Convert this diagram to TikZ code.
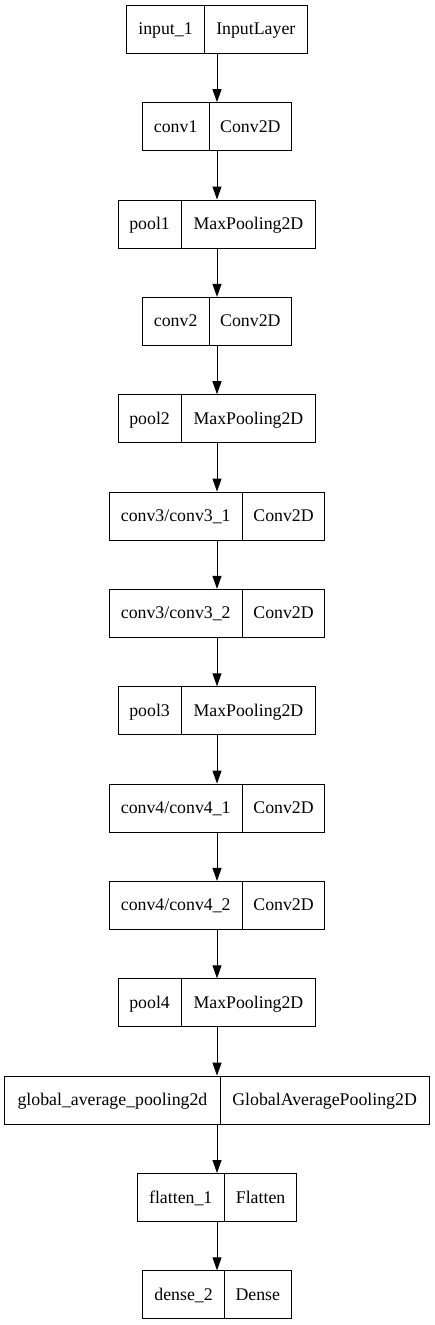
\documentclass[tikz,border=0pt]{standalone}
\usepackage{fontspec}
\setmainfont{Liberation Serif}
\usetikzlibrary{arrows.meta}
\newcommand\layerbox[6]{% name, index, width, divider x, text1, text2
  \pgfmathsetmacro\cy{-(29.3+97.35*#2)}%
  \pgfmathsetmacro\lx{217-(#3)/2}%
  \pgfmathsetmacro\rx{217+(#3)/2}%
  \node[layer, minimum width=#3pt] (#1) at (217,\cy) {};
  \draw[divider] (#4,\cy+24) -- (#4,\cy-24);
  \node[lbl] (#1-a) at ({(\lx+#4)/2},\cy-5.5) {#5};
  \node[lbl] (#1-b) at ({(#4+\rx)/2},\cy-5.5) {#6};
}
\begin{document}
\begin{tikzpicture}[x=1pt,y=1pt,
  layer/.style={draw=black, line width=1pt, minimum height=48pt, inner sep=0pt},
  divider/.style={draw=black, line width=1pt},
  lbl/.style={anchor=base, inner sep=0pt, font=\fontsize{17.8}{20}\selectfont},
  arr/.style={draw=black, line width=1pt, -{Triangle[length=13pt,width=9pt]}}]
\useasboundingbox (0,0) rectangle (435,-1325);
\fill[white] (0,0) rectangle (435,-1325);
\layerbox{n0}{0}{180.6}{204.3}{input\_1}{InputLayer}
\layerbox{n1}{1}{149.4}{209}{conv1}{Conv2D}
\layerbox{n2}{2}{197.7}{181}{pool1}{MaxPooling2D}
\layerbox{n3}{3}{149.4}{209}{conv2}{Conv2D}
\layerbox{n4}{4}{197.7}{181}{pool2}{MaxPooling2D}
\layerbox{n5}{5}{215.7}{242.3}{conv3/conv3\_1}{Conv2D}
\layerbox{n6}{6}{215.7}{242.3}{conv3/conv3\_2}{Conv2D}
\layerbox{n7}{7}{197.7}{181}{pool3}{MaxPooling2D}
\layerbox{n8}{8}{215.7}{242.3}{conv4/conv4\_1}{Conv2D}
\layerbox{n9}{9}{215.7}{242.3}{conv4/conv4\_2}{Conv2D}
\layerbox{n10}{10}{197.7}{181}{pool4}{MaxPooling2D}
\layerbox{n11}{11}{424.3}{220}{global\_average\_pooling2d}{GlobalAveragePooling2D}
\layerbox{n12}{12}{159.7}{224.3}{flatten\_1}{Flatten}
\layerbox{n13}{13}{148.4}{224.3}{dense\_2}{Dense}
\foreach \a/\b in {n0/n1,n1/n2,n2/n3,n3/n4,n4/n5,n5/n6,n6/n7,n7/n8,n8/n9,n9/n10,n10/n11,n11/n12,n12/n13}
  \draw[arr] (\a.south) -- (\b.north);
\end{tikzpicture}
\end{document}
